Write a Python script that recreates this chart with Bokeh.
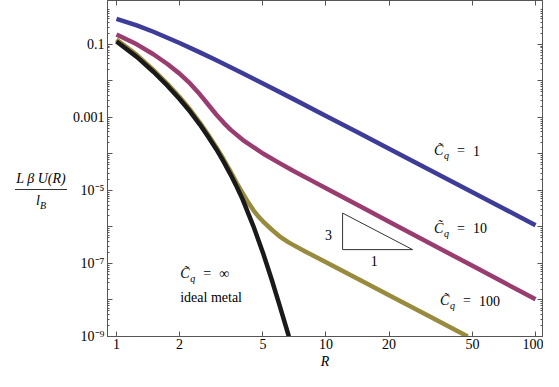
from bokeh.plotting import figure
from bokeh.models import Label, FixedTicker, LogAxis, Range1d, Div
from bokeh.layouts import row
from bokeh.embed import file_html
from bokeh.resources import INLINE

# ---------------- data ----------------
R_cq1 = [1, 1.25, 1.5, 2, 2.5, 3, 4, 5, 7, 10, 14, 20, 30, 45, 70, 100]
U_cq1 = [0.50, 0.332, 0.223, 0.110, 0.0608, 0.0368, 0.0163, 8.53e-3, 3.18e-3,
         1.10e-3, 4.08e-4, 1.40e-4, 4.15e-5, 1.23e-5, 3.27e-6, 1.12e-6]

R_cq10 = [1, 1.25, 1.5, 1.75, 2, 2.25, 2.5, 2.75, 3, 3.25, 3.5, 4, 5, 6, 7,
          8.5, 10, 15, 20, 30, 50, 70, 100]
U_cq10 = [0.1875, 0.1007, 0.0540, 0.0291, 0.0159, 8.43e-3, 4.31e-3, 2.20e-3,
          1.19e-3, 7.14e-4, 4.65e-4, 2.44e-4, 1.03e-4, 5.6e-5, 3.41e-5,
          1.89e-5, 1.15e-5, 3.35e-6, 1.40e-6, 4.07e-7, 8.63e-8, 3.10e-8,
          1.05e-8]

R_cq100 = [1, 1.25, 1.5, 1.75, 2, 2.25, 2.5, 2.75, 3, 3.25, 3.5, 3.75, 4,
           4.25, 4.5, 4.75, 5, 5.5, 6, 6.6, 7, 8, 10, 15, 20, 30, 47.5]
U_cq100 = [0.1364, 0.0518, 0.0202, 8.38e-3, 3.63e-3, 1.62e-3, 7.22e-4,
           3.25e-4, 1.51e-4, 7.06e-5, 3.33e-5, 1.60e-5, 8.4e-6, 4.72e-6,
           2.90e-6, 1.95e-6, 1.43e-6, 8.53e-7, 5.55e-7, 3.85e-7, 3.19e-7,
           2.11e-7, 1.08e-7, 3.21e-8, 1.35e-8, 4.03e-9, 1.0e-9]

R_inf = [1, 1.25, 1.5, 1.75, 2, 2.25, 2.5, 2.75, 3, 3.25, 3.5, 3.75, 4, 4.5,
         5, 5.5, 6, 6.65]
U_inf = [0.121, 0.0457, 0.01786, 7.41e-3, 3.21e-3, 1.43e-3, 6.39e-4, 2.88e-4,
         1.33e-4, 6.1e-5, 2.77e-5, 1.26e-5, 5.7e-6, 1.06e-6, 1.98e-7,
         3.71e-8, 7.2e-9, 1.0e-9]

# slope-3 triangle
tri_R = [12, 12, 25.9, 12]
tri_U = [2.4e-6, 2.4e-7, 2.4e-7, 2.4e-6]

x_ticks = [1, 2, 5, 10, 20, 50, 100]
x_tick_labels = ["1", "2", "5", "10", "20", "50", "100"]
y_ticks = [1e-9, 1e-8, 1e-7, 1e-6, 1e-5, 1e-4, 1e-3, 1e-2, 1e-1]
y_tick_labels = ["10\u207b\u2079", "", "10\u207b\u2077", "", "10\u207b\u2075", "",
                 "0.001", "", "0.1"]

# ---------------- style ----------------
FONT = "Liberation Serif"
BLUE = "#3d3d99"
MAGENTA = "#993d71"
OLIVE = "#998b3d"
BLACK = "#1a1a1a"
FRAME = "#555555"

DIV_W = 69
p = figure(width=543 - DIV_W, height=371, x_axis_type="log", y_axis_type="log",
           x_range=Range1d(0.906, 108.0),
           y_range=Range1d(1e-9, 1.6),
           output_backend="svg", toolbar_location=None,
           min_border_left=105 - DIV_W, min_border_right=1,
           min_border_top=0, min_border_bottom=32)
p.grid.visible = False
p.outline_line_color = FRAME
p.background_fill_color = "white"
p.border_fill_color = "white"

minor_y = [k * 10.0 ** n for n in range(-9, 0) for k in range(2, 10)]


def style_axis(ax, horizontal, labels):
    if horizontal:
        ax.ticker = FixedTicker(ticks=x_ticks, minor_ticks=[])
        ax.major_label_overrides = dict(zip(x_ticks, x_tick_labels if labels else [""] * len(x_ticks)))
    else:
        ax.ticker = FixedTicker(ticks=y_ticks, minor_ticks=minor_y)
        ax.major_label_overrides = dict(zip(y_ticks, y_tick_labels if labels else [""] * len(y_ticks)))
    ax.axis_line_color = FRAME
    ax.major_tick_line_color = FRAME
    ax.minor_tick_line_color = FRAME
    ax.major_tick_in = 5
    ax.major_tick_out = 0
    ax.minor_tick_in = 2
    ax.minor_tick_out = 0
    ax.major_label_text_font = FONT
    ax.major_label_text_color = "black"
    if labels:
        ax.major_label_text_font_size = "14px"
        ax.major_label_standoff = 3
    else:
        ax.major_label_text_font_size = "0px"
        ax.major_label_standoff = 0


style_axis(p.xaxis[0], True, True)
style_axis(p.yaxis[0], False, True)
p.xaxis[0].major_label_standoff = 2
p.xaxis[0].axis_label = "R"
p.xaxis[0].axis_label_text_font = FONT
p.xaxis[0].axis_label_text_font_style = "italic"
p.xaxis[0].axis_label_text_font_size = "14px"
p.xaxis[0].axis_label_text_color = "black"
p.xaxis[0].axis_label_standoff = 2

top = LogAxis()
style_axis(top, True, False)
p.add_layout(top, "above")
right = LogAxis()
style_axis(right, False, False)
p.add_layout(right, "right")

# ---------------- curves ----------------
p.line(R_cq1, U_cq1, line_color=BLUE, line_width=4.5, line_join="round")
p.line(R_cq10, U_cq10, line_color=MAGENTA, line_width=4.5, line_join="round")
p.line(R_cq100, U_cq100, line_color=OLIVE, line_width=4.5, line_join="round")
p.line(R_inf, U_inf, line_color=BLACK, line_width=4.5, line_join="round")
p.line(tri_R, tri_U, line_color="#333333", line_width=1)


# ---------------- texts inside the frame ----------------
def at(px, py):
    """reference-picture pixel position -> data coordinates"""
    return 10 ** ((px - 114) / 210.5), 10 ** ((347 - py) / 37.7 - 9)


def text(px, py, s, size="14px", style="normal", align="left", dx=0, dy=0):
    x, y = at(px, py)
    p.add_layout(Label(x=x, y=y, text=s, text_font=FONT, text_font_size=size,
                       text_font_style=style, text_align=align,
                       text_baseline="middle", text_color="black",
                       x_offset=dx, y_offset=dy))


def cq(px, py, rhs):
    text(px, py, "C\u0303", style="italic")
    text(px, py, "q", size="10px", style="italic", dx=10, dy=-5)
    text(px, py, "=", dx=23)
    text(px, py, rhs, dx=39)


cq(433, 155, "1")
cq(433, 235, "10")
cq(439, 310, "100")
cq(178, 282, "\u221e")
text(178, 307, "ideal metal")
text(327, 242, "3", align="center")
text(373, 269, "1", align="center")

# ---------------- y-axis label (fraction) ----------------
ylab_html = (
    "<div style=\"position:relative;width:69px;height:371px;"
    "font-family:'Liberation Serif';font-size:14px;color:black;\">"
    "<div style=\"position:absolute;left:13px;top:171px;width:56px;"
    "text-align:center;font-style:italic;line-height:16px;white-space:nowrap;\">"
    "L \u03b2 U(R)</div>"
    "<div style=\"position:absolute;left:15px;top:189px;width:52px;"
    "border-top:1px solid #333;\"></div>"
    "<div style=\"position:absolute;left:13px;top:193px;width:56px;"
    "text-align:center;font-style:italic;line-height:16px;\">"
    "l<sub style=\"font-size:10px;\">B</sub></div>"
    "</div>"
)
ylab = Div(text=ylab_html, width=DIV_W, height=371, margin=0)

layout = row(ylab, p, spacing=0)
open("out.html", "w").write(file_html(layout, INLINE))
